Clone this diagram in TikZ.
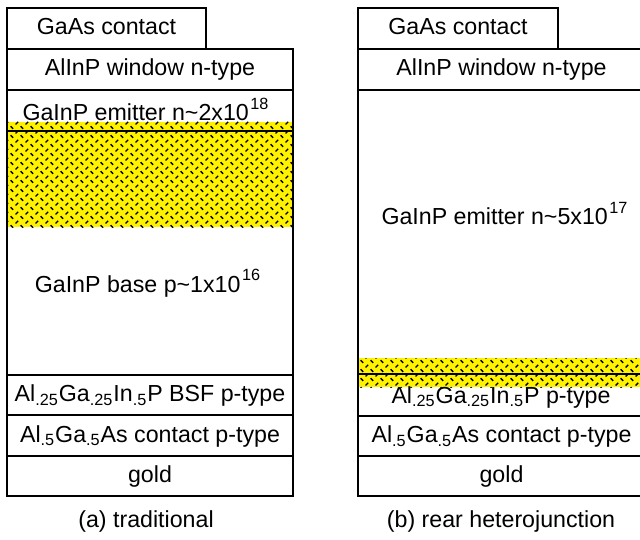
\documentclass[tikz,border=0pt]{standalone}
\usepackage{fontspec}
\setmainfont{Liberation Sans}
\usepackage{tikz}
\usetikzlibrary{patterns}

\pgfdeclarepatternformonly{dashgrid}{\pgfqpoint{-0.5pt}{-0.5pt}}{\pgfqpoint{5.5pt}{5pt}}{\pgfqpoint{5pt}{4.5pt}}{
    \pgfsetlinewidth{0.7pt}
    \pgfpathmoveto{\pgfqpoint{0.3pt}{3.9pt}}\pgfpathlineto{\pgfqpoint{1.6pt}{2.6pt}}
    \pgfpathmoveto{\pgfqpoint{2.8pt}{0.3pt}}\pgfpathlineto{\pgfqpoint{4.1pt}{1.6pt}}
    \pgfusepath{stroke}}

\newcommand{\dopexp}[1]{\kern0.8pt\raisebox{1.5pt}{\textsuperscript{#1}}}

\begin{document}
\begin{tikzpicture}[x=0.5pt, y=-0.5pt,
    every node/.style={font=\fontsize{11.6pt}{13pt}\selectfont, inner sep=0pt},
    layer/.style={draw, line width=0.9pt, minimum width=143pt, minimum height=20.5pt,
                  text height=8pt, text depth=1.5pt}]

    \clip (0, 0) rectangle (640, 539);

    \fill [yellow] (7, 122) rectangle (293, 227);
    \fill [pattern=dashgrid] (7, 122) rectangle (293, 227);
    \fill [yellow] (358, 358) rectangle (645, 387);
    \fill [pattern=dashgrid] (358, 358) rectangle (645, 387);

    \node [layer, minimum width=99.5pt] (lcap) at (106.5, 28.5) {GaAs contact};
    \node [layer] (lwin) at (150, 69.5) {AlInP window n-type};
    \node [layer, minimum height=142.5pt] (lcell) at (150, 232.5) {};
    \node [layer, minimum height=20pt] (lbsf) at (150, 395) {Al\textsubscript{.25}Ga\textsubscript{.25}In\textsubscript{.5}P BSF p-type};
    \node [layer] (lcon) at (150, 435.5) {Al\textsubscript{.5}Ga\textsubscript{.5}As contact p-type};
    \node [layer, minimum height=20pt] (lgold) at (150, 476) {gold};

    \node [anchor=base] (lemit) at (146, 121) {GaInP emitter n\char`\~2x10\dopexp{18}};
    \node [anchor=base] (lbase) at (148, 292) {GaInP base p\char`\~1x10\dopexp{16}};
    \draw [line width=0.9pt] (lcell.west |- 0, 131) -- (lcell.east |- 0, 131);

    \node [layer, minimum width=100pt] (rcap) at (458, 28.5) {GaAs contact};
    \node [layer, minimum width=143.5pt] (rwin) at (501.5, 69.5) {AlInP window n-type};
    \node [layer, minimum width=143.5pt, minimum height=163pt] (rcell) at (501.5, 253) {};
    \node [layer, minimum width=143.5pt, minimum height=20pt] (rcon) at (501.5, 436) {Al\textsubscript{.5}Ga\textsubscript{.5}As contact p-type};
    \node [layer, minimum width=143.5pt, minimum height=20pt] (rgold) at (501.5, 476) {gold};

    \node [anchor=base] (remit) at (505, 225) {GaInP emitter n\char`\~5x10\dopexp{17}};
    \node [anchor=base] (rbsf) at (501, 403) {Al\textsubscript{.25}Ga\textsubscript{.25}In\textsubscript{.5}P p-type};
    \draw [line width=0.9pt] (rcell.west |- 0, 374) -- (rcell.east |- 0, 374);

    \node [anchor=base] (lcaption) at (146, 527) {(a) traditional};
    \node [anchor=base] (rcaption) at (501, 527) {(b) rear heterojunction};

\end{tikzpicture}
\end{document}
